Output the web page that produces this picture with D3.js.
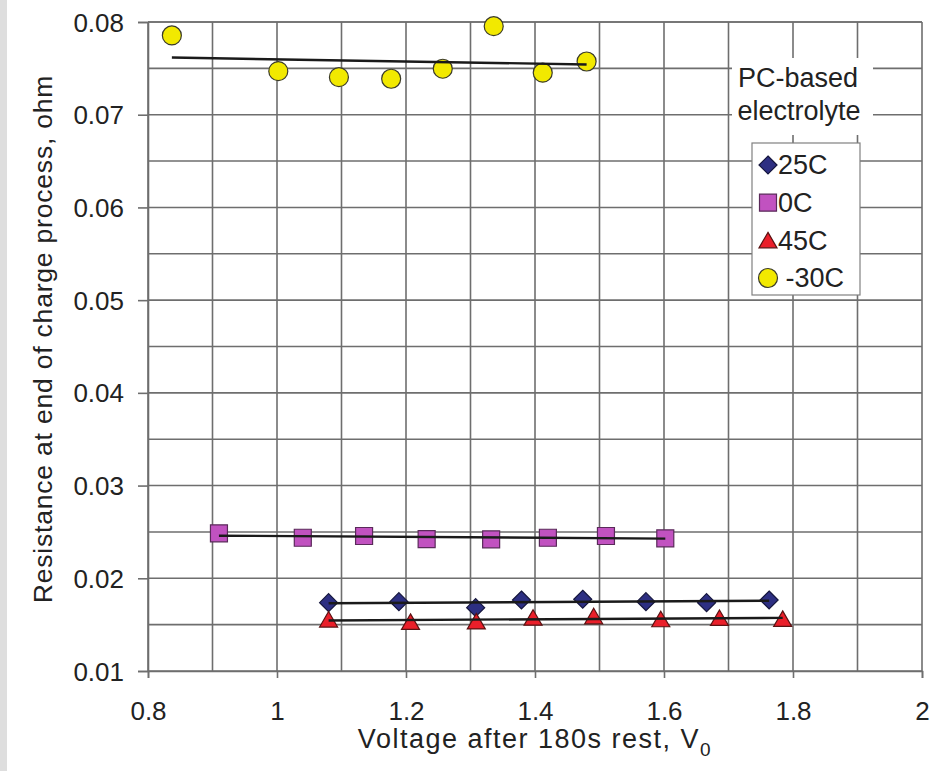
<!DOCTYPE html>
<html>
<head>
<meta charset="utf-8">
<script src="https://cdn.jsdelivr.net/npm/d3@7"></script>
<style>
  html, body { margin: 0; padding: 0; background: #fff; }
  svg { display: block; }
  text { font-family: "Liberation Sans", Arial, sans-serif; fill: #222; }
</style>
</head>
<body>
<svg id="chart" width="950" height="771"></svg>
<script>
// ---------- data ----------
const seriesNames = ["25C", "0C", "45C", " -30C"];

const x25 = [1.080, 1.189, 1.308, 1.379, 1.474, 1.572, 1.666, 1.763];
const y25 = [0.01737, 0.01748, 0.01683, 0.01766, 0.01774, 0.01748, 0.01737, 0.01766];

const x0 = [0.910, 1.040, 1.135, 1.232, 1.332, 1.420, 1.510, 1.602];
const y0 = [0.02485, 0.02437, 0.02456, 0.02423, 0.02420, 0.02437, 0.02456, 0.02431];

const x45 = [1.080, 1.207, 1.309, 1.397, 1.491, 1.595, 1.686, 1.784];
const y45 = [0.01555, 0.01530, 0.01535, 0.01575, 0.01590, 0.01558, 0.01572, 0.01562];

const xm30 = [0.837, 1.002, 1.096, 1.177, 1.257, 1.336, 1.412, 1.480];
const ym30 = [0.07855, 0.07470, 0.07405, 0.07388, 0.07496, 0.07955, 0.07453, 0.07574];

const xTickLabels = ["0.8", "1", "1.2", "1.4", "1.6", "1.8", "2"];
const yTickLabels = ["0.01", "0.02", "0.03", "0.04", "0.05", "0.06", "0.07", "0.08"];

const xTitle = "Voltage after 180s rest, V";
const xTitleSub = "0";
const yTitle = "Resistance at end of charge process, ohm";
const noteLines = ["PC-based", "electrolyte"];

// ---------- setup ----------
const svg = d3.select("#chart");
const L = 148, R = 922, T = 22, B = 671;
const x = d3.scaleLinear().domain([0.8, 2.0]).range([L, R]);
const y = d3.scaleLinear().domain([0.01, 0.08]).range([B, T]);
const gridColor = "#6e6e6e";

svg.append("rect").attr("width", 950).attr("height", 771).attr("fill", "#fff");
svg.append("rect").attr("x", 0).attr("y", 0).attr("width", 7).attr("height", 771).attr("fill", "#dedede");

// gridlines
const g = svg.append("g");
const xGrid = d3.range(9, 21).map(d => d / 10);
const yGrid = d3.range(2, 17).map(d => d / 200);
g.selectAll(".vg").data(xGrid).join("line")
  .attr("x1", d => x(d)).attr("x2", d => x(d)).attr("y1", T).attr("y2", B)
  .attr("stroke", gridColor).attr("stroke-width", 1.6);
g.selectAll(".hg").data(yGrid).join("line")
  .attr("x1", L).attr("x2", R).attr("y1", d => y(d)).attr("y2", d => y(d))
  .attr("stroke", gridColor).attr("stroke-width", 1.6);

// axes
const xAxis = d3.axisBottom(x)
  .tickValues(xTickLabels.map(Number))
  .tickFormat((d, i) => xTickLabels[i])
  .tickSize(7).tickPadding(24);
const yAxis = d3.axisLeft(y)
  .tickValues(yTickLabels.map(Number))
  .tickFormat((d, i) => yTickLabels[i])
  .tickSize(10).tickPadding(14);

const gx = svg.append("g").attr("transform", `translate(0,${B})`).call(xAxis);
const gy = svg.append("g").attr("transform", `translate(${L},0)`).call(yAxis);
[gx, gy].forEach(a => {
  a.select(".domain").attr("stroke", gridColor).attr("stroke-width", 1.6);
  a.selectAll(".tick line").attr("stroke", gridColor).attr("stroke-width", 1.6);
  a.selectAll(".tick text").attr("font-size", 26).attr("fill", "#222")
    .attr("font-family", "Liberation Sans, Arial, sans-serif");
});
gx.selectAll(".tick text").attr("dy", null).attr("y", 49);
gy.selectAll(".tick text").attr("dy", "0.35em");
// frame top/left
svg.append("line").attr("x1", L).attr("x2", R).attr("y1", T).attr("y2", T).attr("stroke", gridColor).attr("stroke-width", 1.6);
svg.append("line").attr("x1", L).attr("x2", L).attr("y1", T).attr("y2", B).attr("stroke", gridColor).attr("stroke-width", 1.6);

// titles
const xt = svg.append("text").attr("x", (L + R) / 2).attr("y", 748).attr("text-anchor", "middle")
  .attr("font-size", 27).style("letter-spacing", "1.5px");
xt.append("tspan").text(xTitle);
xt.append("tspan").attr("font-size", 19).attr("dy", 8).text(xTitleSub);

svg.append("text").attr("transform", "rotate(-90)").attr("x", -339).attr("y", 52)
  .attr("text-anchor", "middle").attr("font-size", 26.5).style("letter-spacing", "0.8px").text(yTitle);

// ---------- markers ----------
const diamond = "M0,-9L9,0L0,9L-9,0Z";
const square = "M-8.5,-8.5H8.5V8.5H-8.5Z";
const triangle = "M0,-8L9,7.5L-9,7.5Z";
const styles = [
  { path: diamond, fill: "#2d2f82", stroke: "#15163d" },
  { path: square, fill: "#c152c0", stroke: "#5a2a5a" },
  { path: triangle, fill: "#ea1f2a", stroke: "#5a1212" },
  { path: null, fill: "#f2e900", stroke: "#3a3a2a" }
];
const series = [
  { xs: x25, ys: y25 },
  { xs: x0, ys: y0 },
  { xs: x45, ys: y45 },
  { xs: xm30, ys: ym30 }
];

function drawMarker(sel, st) {
  if (st.path) {
    sel.append("path").attr("d", st.path).attr("fill", st.fill).attr("stroke", st.stroke).attr("stroke-width", 1.2);
  } else {
    sel.append("circle").attr("r", 9.5).attr("fill", st.fill).attr("stroke", st.stroke).attr("stroke-width", 1.2);
  }
}

const mg = svg.append("g");
series.forEach((s, i) => {
  const pts = s.xs.map((v, k) => [v, s.ys[k]]);
  mg.append("g").selectAll("g").data(pts).join("g")
    .attr("transform", d => `translate(${x(d[0])},${y(d[1])})`)
    .each(function() { drawMarker(d3.select(this), styles[i]); });
});

// linear trendlines (least squares) drawn over markers
const tg = svg.append("g");
series.forEach(s => {
  const mx = d3.mean(s.xs), my = d3.mean(s.ys);
  const sxy = d3.sum(s.xs, (v, k) => (v - mx) * (s.ys[k] - my));
  const sxx = d3.sum(s.xs, v => (v - mx) * (v - mx));
  const b = sxy / sxx, a = my - b * mx;
  const [x1, x2] = d3.extent(s.xs);
  tg.append("line")
    .attr("x1", x(x1)).attr("y1", y(a + b * x1))
    .attr("x2", x(x2)).attr("y2", y(a + b * x2))
    .attr("stroke", "#1a1a1a").attr("stroke-width", 2.4);
});

// ---------- note & legend ----------
svg.append("rect").attr("x", 732).attr("y", 58).attr("width", 141).attr("height", 77).attr("fill", "#fff");
svg.append("text").attr("x", 798).attr("y", 87).attr("text-anchor", "middle").attr("font-size", 27).text(noteLines[0]);
svg.append("text").attr("x", 799).attr("y", 120).attr("text-anchor", "middle").attr("font-size", 27).text(noteLines[1]);

const lg = svg.append("g");
lg.append("rect").attr("x", 752).attr("y", 143).attr("width", 108).attr("height", 152)
  .attr("fill", "#fff").attr("stroke", "#808080").attr("stroke-width", 1.2);
const rowY = d3.scalePoint().domain(seriesNames).range([165, 278]);
seriesNames.forEach((n, i) => {
  const r = lg.append("g").attr("transform", `translate(768,${rowY(n)})`);
  drawMarker(r, styles[i]);
  lg.append("text").attr("x", 778).attr("y", rowY(n)).attr("dy", "0.35em")
    .attr("font-size", 27).style("white-space", "pre").text(n);
});
</script>
</body>
</html>
